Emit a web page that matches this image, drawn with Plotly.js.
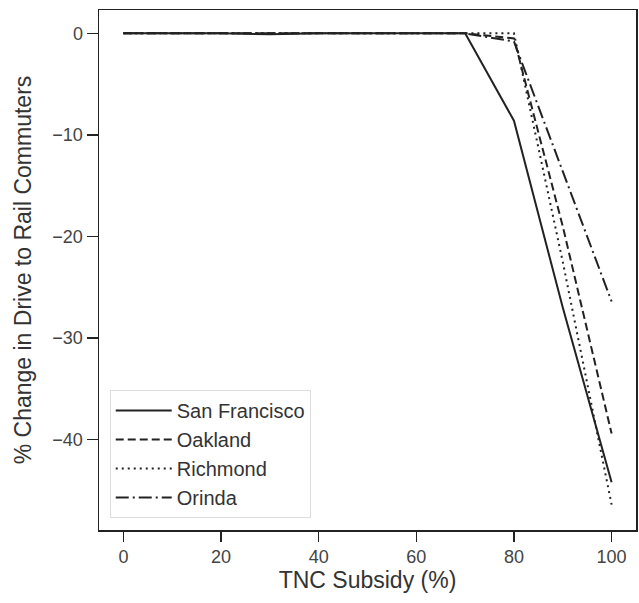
<!DOCTYPE html>
<html><head><meta charset="utf-8">
<script src="https://cdn.plot.ly/plotly-3.0.1.min.js"></script>
<style>body{margin:0;background:#fff}#c{width:639px;height:603px}</style>
</head><body><div id="c"></div>
<script>
const subsidy = [0,10,20,30,40,50,60,70,80,90,100];
const sanFrancisco = [0,0,0,-0.1,0,0,0,0,-8.6,-27,-44.2];
const oakland = [0,0,0,0,0,0,0,0,-0.5,-19,-39.4];
const richmond = [0,0,0,0,0,0,0,0,0,-22.5,-46.4];
const orinda = [0,0,0,0,0,0,0,0,-0.8,-13.6,-26.4];
const names = ["San Francisco","Oakland","Richmond","Orinda"];
const series = [sanFrancisco, oakland, richmond, orinda];
const dashes = ["solid","8px,4px","2px,4px","13px,4px,2px,4px"];
const traces = series.map((s,i)=>({
  x: subsidy, y: s, name: names[i], mode: "lines",
  line: {color: "#222", width: 2, dash: dashes[i]}
}));
const layout = {
  width: 639, height: 603,
  margin: {l: 99, r: 3, t: 10, b: 73},
  paper_bgcolor: "#fff", plot_bgcolor: "#fff",
  font: {family: "Liberation Sans, Arial, sans-serif", color: "#333", size: 18},
  xaxis: {range: [-5, 105], tickvals: [0,20,40,60,80,100], ticks: "outside", ticklen: 10, tickwidth: 1.5,
    tickcolor: "#222", showgrid: false, zeroline: false, showline: true, mirror: true, linecolor: "#222", linewidth: 1.5,
    tickfont: {size: 18, color: "#444"},
    title: {text: "TNC Subsidy (%)", font: {size: 23, color: "#333"}, standoff: 6}},
  yaxis: {range: [-48.9, 2.3], tickvals: [0,-10,-20,-30,-40], ticktext: ["0","\u221210","\u221220","\u221230","\u221240"],
    ticks: "outside", ticklen: 11, tickwidth: 1.5, tickcolor: "#222",
    showgrid: false, zeroline: false, showline: true, mirror: true, linecolor: "#222", linewidth: 1.5,
    tickfont: {size: 18, color: "#444"},
    title: {text: "% Change in Drive to Rail Commuters", font: {size: 23, color: "#333"}, standoff: 14}},
  showlegend: true,
  legend: {x: 0.02, y: 0.023, xanchor: "left", yanchor: "bottom", bgcolor: "#fff", itemwidth: 56,
    bordercolor: "#ddd", borderwidth: 1, font: {size: 20, color: "#333"}, tracegroupgap: 0}
};
Plotly.newPlot("c", traces, layout, {displayModeBar: false, staticPlot: true});
</script></body></html>
